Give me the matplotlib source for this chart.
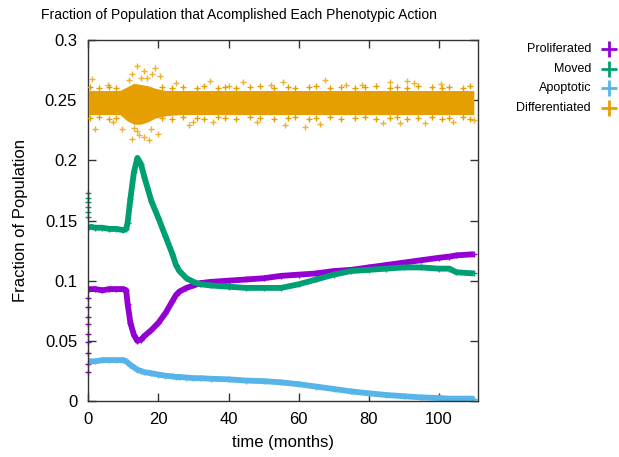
import numpy as np
import matplotlib
matplotlib.use("Agg")
import matplotlib.pyplot as plt

plt.rcParams['font.family'] = ['Liberation Sans', 'DejaVu Sans']

# ---- data (time in months, fraction of population) ----
t_main = [0.3, 2, 4, 6, 8, 10, 10.8, 11.2, 12, 13, 14, 15, 16, 18, 20, 22, 24, 25,
          26, 28, 30, 32, 35, 40, 45, 50, 55, 60, 65, 70, 75, 80, 85, 90, 95, 100,
          103, 105, 110]

prolif = [0.093, 0.093, 0.092, 0.093, 0.093, 0.093, 0.092, 0.081, 0.065, 0.055,
          0.050, 0.051, 0.054, 0.059, 0.065, 0.073, 0.083, 0.088, 0.091, 0.094,
          0.096, 0.098, 0.099, 0.100, 0.101, 0.102, 0.104, 0.105, 0.106, 0.108,
          0.109, 0.111, 0.113, 0.115, 0.117, 0.119, 0.120, 0.121, 0.122]

moved = [0.145, 0.144, 0.144, 0.143, 0.143, 0.142, 0.143, 0.148, 0.168, 0.190,
         0.202, 0.197, 0.186, 0.166, 0.152, 0.137, 0.122, 0.113, 0.108, 0.102,
         0.099, 0.097, 0.096, 0.095, 0.094, 0.094, 0.094, 0.097, 0.101, 0.105,
         0.108, 0.109, 0.110, 0.111, 0.111, 0.110, 0.110, 0.107, 0.106]

apopt = [0.033, 0.033, 0.034, 0.034, 0.034, 0.034, 0.033, 0.032, 0.030, 0.028,
         0.026, 0.025, 0.024, 0.023, 0.022, 0.021, 0.0205, 0.020, 0.020, 0.0195,
         0.019, 0.019, 0.0185, 0.018, 0.017, 0.0165, 0.0155, 0.014, 0.012, 0.010,
         0.008, 0.0064, 0.005, 0.004, 0.003, 0.0025, 0.002, 0.002, 0.002]

# first few time steps (all at t ~ 0)
prolif_start = [0.086, 0.078, 0.070, 0.064, 0.056, 0.049, 0.040, 0.031, 0.024]
moved_start = [0.173, 0.169, 0.165, 0.161, 0.157, 0.153]

# differentiated: noisy band -> dense core limits, points on its ragged edge, outliers
t_diff = [0, 9, 11, 13, 15, 17, 19, 22, 26, 110]
diff_upper = [0.258, 0.258, 0.261, 0.264, 0.263, 0.262, 0.260, 0.258, 0.258, 0.258]
diff_lower = [0.238, 0.238, 0.233, 0.230, 0.230, 0.232, 0.235, 0.237, 0.238, 0.238]

edge_t = [0.5, 3, 6, 8, 21, 24, 27, 31, 33, 37, 39, 42, 46, 49, 53, 57, 59, 63, 65,
          69, 72, 76, 79, 82, 86, 88, 91, 94, 98, 101, 103, 107, 109]
edge_hi = [0.261, 0.260, 0.261, 0.260, 0.261, 0.260, 0.261, 0.260, 0.262, 0.260,
           0.261, 0.260, 0.261, 0.262, 0.260, 0.261, 0.260, 0.261, 0.262, 0.260,
           0.261, 0.260, 0.261, 0.262, 0.260, 0.261, 0.260, 0.262, 0.261, 0.260,
           0.261, 0.260, 0.262]
edge_lo = [0.235, 0.236, 0.234, 0.235, 0.235, 0.234, 0.236, 0.235, 0.234, 0.236,
           0.235, 0.234, 0.236, 0.235, 0.234, 0.235, 0.236, 0.234, 0.235, 0.236,
           0.234, 0.235, 0.236, 0.234, 0.235, 0.236, 0.234, 0.235, 0.236, 0.234,
           0.235, 0.236, 0.234]

out_t = [13.9, 19.1, 12.4, 18.1, 20.5, 1.0, 34.8, 44.2, 2.0, 9.6, 12.4, 17.2, 15.8,
         20.0, 28.6, 35.7, 13.9, 67.5, 90.8, 55.6, 86.0, 61.8, 56.1, 88.9, 84.1,
         110.0, 100.6, 73.6, 16.0, 14.5, 5.5, 25.0, 40.0, 48.0, 78.0, 96.0, 104.0,
         7.0, 30.0, 52.0, 66.0, 93.0, 11.5, 15.0, 17.8, 13.0, 16.8]
out_v = [0.2785, 0.277, 0.2715, 0.2715, 0.270, 0.2675, 0.266, 0.2648, 0.226, 0.226,
         0.218, 0.2165, 0.219, 0.222, 0.229, 0.2315, 0.2247, 0.2667, 0.266, 0.2648,
         0.2653, 0.228, 0.229, 0.2307, 0.2307, 0.2336, 0.2634, 0.263, 0.274, 0.221,
         0.263, 0.264, 0.262, 0.232, 0.263, 0.231, 0.232, 0.232, 0.232, 0.263,
         0.230, 0.264, 0.267, 0.268, 0.226, 0.227, 0.268]

labels = ["Proliferated", "Moved", "Apoptotic", "Differentiated"]
colors = ["#9400d3", "#009e73", "#56b4e9", "#e69f00"]

fig = plt.figure(figsize=(6.19, 4.57), dpi=100)
ax = fig.add_axes([0.1427, 0.1225, 0.6296, 0.790])

# thick line + small '+' markers to mimic the dense point cloud
for vals, start, c in [(prolif, prolif_start, colors[0]),
                       (moved, moved_start, colors[1]),
                       (apopt, [], colors[2])]:
    ax.plot(t_main, vals, color=c, lw=4.2, solid_capstyle='butt', zorder=2)
    ax.plot(t_main, vals, '+', color=c, ms=4.5, mew=1, zorder=2)
    if start:
        ax.plot(np.zeros(len(start)), start, '+', color=c, ms=4, mew=1, clip_on=False)

dc = colors[3]
ax.fill_between(t_diff, diff_lower, diff_upper, color=dc, lw=0, zorder=3)
ax.plot(edge_t, edge_hi, '+', color=dc, ms=5, mew=1, zorder=3)
ax.plot(edge_t, edge_lo, '+', color=dc, ms=5, mew=1, zorder=3)
ax.plot(out_t, out_v, '+', color=dc, ms=5, mew=1, alpha=0.8, zorder=3)

ax.set_xlim(0, 111.2)
ax.set_ylim(0, 0.3)
ax.set_xticks([0, 20, 40, 60, 80, 100])
ax.set_yticks([0, 0.05, 0.1, 0.15, 0.2, 0.25, 0.3])
ax.set_yticklabels(["0", "0.05", "0.1", "0.15", "0.2", "0.25", "0.3"])
ax.tick_params(direction='in', top=True, right=True, length=6, width=1,
               labelsize=12, pad=8, color='#333333')
for s in ax.spines.values():
    s.set_linewidth(1)
    s.set_color('#333333')

ax.set_xlabel("time (months)", fontsize=12, labelpad=6)
ax.set_ylabel("Fraction of Population", fontsize=12, labelpad=12)
fig.text(239 / 619, 1 - 15 / 457, "Fraction of Population that Acomplished Each Phenotypic Action",
         ha='center', va='center', fontsize=10)

# legend, gnuplot style: right-aligned text then marker
for i, (lab, c) in enumerate(zip(labels, colors)):
    y = 1 - (49 + 19.6 * i) / 457
    fig.text(591 / 619, y, lab, ha='right', va='center', fontsize=9)
    ax.plot([609 / 619], [y], '+', color=c, ms=11, mew=2,
            transform=fig.transFigure, clip_on=False)

fig.savefig("out.png", dpi=100)
